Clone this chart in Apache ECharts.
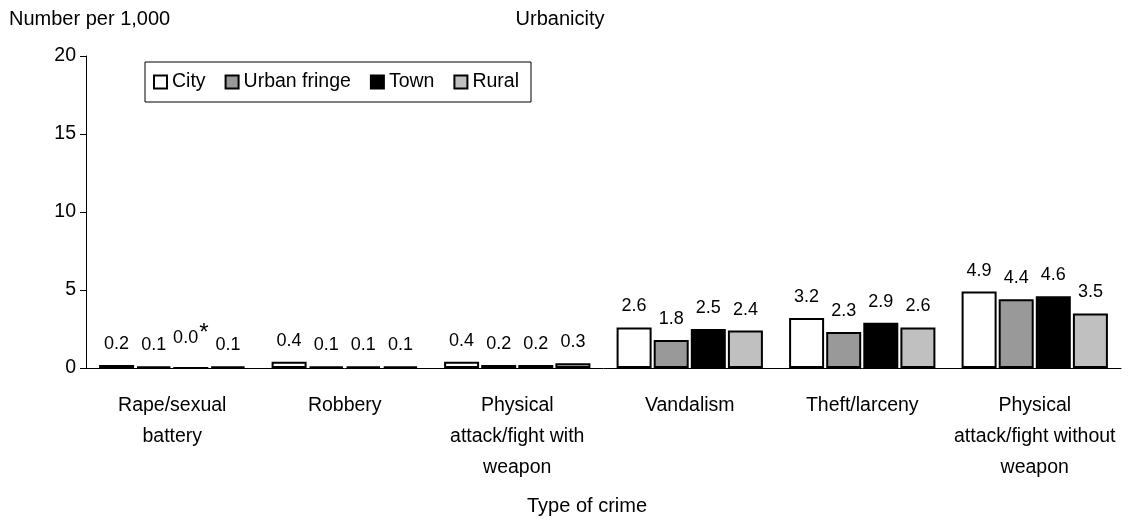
<!DOCTYPE html>
<html>
<head>
<meta charset="utf-8">
<script src="https://cdn.jsdelivr.net/npm/echarts@6/dist/echarts.min.js"></script>
<style>
html, body { margin: 0; padding: 0; background: #fff; }
#chart { width: 1133px; height: 522px; }
</style>
</head>
<body>
<div id="chart"></div>
<script>
var categories = ['Rape/sexual\nbattery', 'Robbery', 'Physical\nattack/fight with\nweapon', 'Vandalism', 'Theft/larceny', 'Physical\nattack/fight without\nweapon'];
var city = [0.2, 0.4, 0.4, 2.6, 3.2, 4.9];
var urbanFringe = [0.1, 0.1, 0.2, 1.8, 2.3, 4.4];
var town = [0.0, 0.1, 0.2, 2.5, 2.9, 4.6];
var rural = [0.1, 0.1, 0.3, 2.4, 2.6, 3.5];
var yTicks = [0, 5, 10, 15, 20];

var font = 'Liberation Sans, Arial, sans-serif';

function makeSeries(name, data, color){
	return {
		name: name,
		type: 'bar',
		data: data,
		barWidth: 35,
		barGap: '6%',
		itemStyle: { color: color, borderColor: '#000', borderWidth: 2 },
		label: {
			show: true,
			position: 'top',
			distance: 12,
			color: '#000',
			fontFamily: font,
			fontSize: 18,
			formatter: function(p){
				var t = p.value.toFixed(1);
				// value too small to report is marked with an asterisk
				if(name == 'Town' && p.dataIndex == 0) return '{v|' + t + '}{s|*}';
				return t;
			},
			rich: {
				v: { fontFamily: font, fontSize: 18, color: '#000' },
				s: { fontFamily: font, fontSize: 24, color: '#000', padding: [0, 0, 10, 1] }
			}
		}
	};
}

var myChart = echarts.init(document.getElementById('chart'));
var titleStyle = { fontFamily: font, fontSize: 20, fontWeight: 'normal', color: '#000' };
var option = {
	animation: false,
	textStyle: { fontFamily: font },
	title: [
		{ text: 'Urbanicity', left: 560, top: 9, padding: 0, textAlign: 'center', textStyle: titleStyle },
		{ text: 'Number per 1,000', left: 9, top: 9, padding: 0, textStyle: titleStyle },
		{ text: 'Type of crime', left: 587, top: 496, padding: 0, textAlign: 'center', textStyle: titleStyle }
	],
	legend: {
		left: 145,
		top: 62,
		padding: [10, 12, 10, 8],
		borderColor: '#000',
		borderWidth: 1,
		itemWidth: 13,
		itemHeight: 13,
		itemGap: 19,
		icon: 'rect',
		itemStyle: { borderColor: '#000', borderWidth: 2 },
		textStyle: { fontFamily: font, fontSize: 19.5, color: '#000' },
		data: ['City', 'Urban fringe', 'Town', 'Rural']
	},
	grid: { left: 86, right: 12, top: 56, bottom: 154 },
	xAxis: {
		type: 'category',
		data: categories,
		axisLine: { lineStyle: { color: '#000', width: 1 } },
		axisTick: { show: false },
		axisLabel: { color: '#000', fontFamily: font, fontSize: 19.5, lineHeight: 31, margin: 22, interval: 0, align: 'center' }
	},
	yAxis: {
		type: 'value',
		min: yTicks[0],
		max: yTicks[yTicks.length - 1],
		interval: 5,
		splitLine: { show: false },
		axisLine: { show: true, lineStyle: { color: '#000', width: 1 } },
		axisTick: { show: true, length: 6, lineStyle: { color: '#000' } },
		axisLabel: { color: '#000', fontFamily: font, fontSize: 19.5, margin: 10 }
	},
	series: [
		makeSeries('City', city, '#ffffff'),
		makeSeries('Urban fringe', urbanFringe, '#999999'),
		makeSeries('Town', town, '#000000'),
		makeSeries('Rural', rural, '#c0c0c0')
	]
};
myChart.setOption(option);
</script>
</body>
</html>
